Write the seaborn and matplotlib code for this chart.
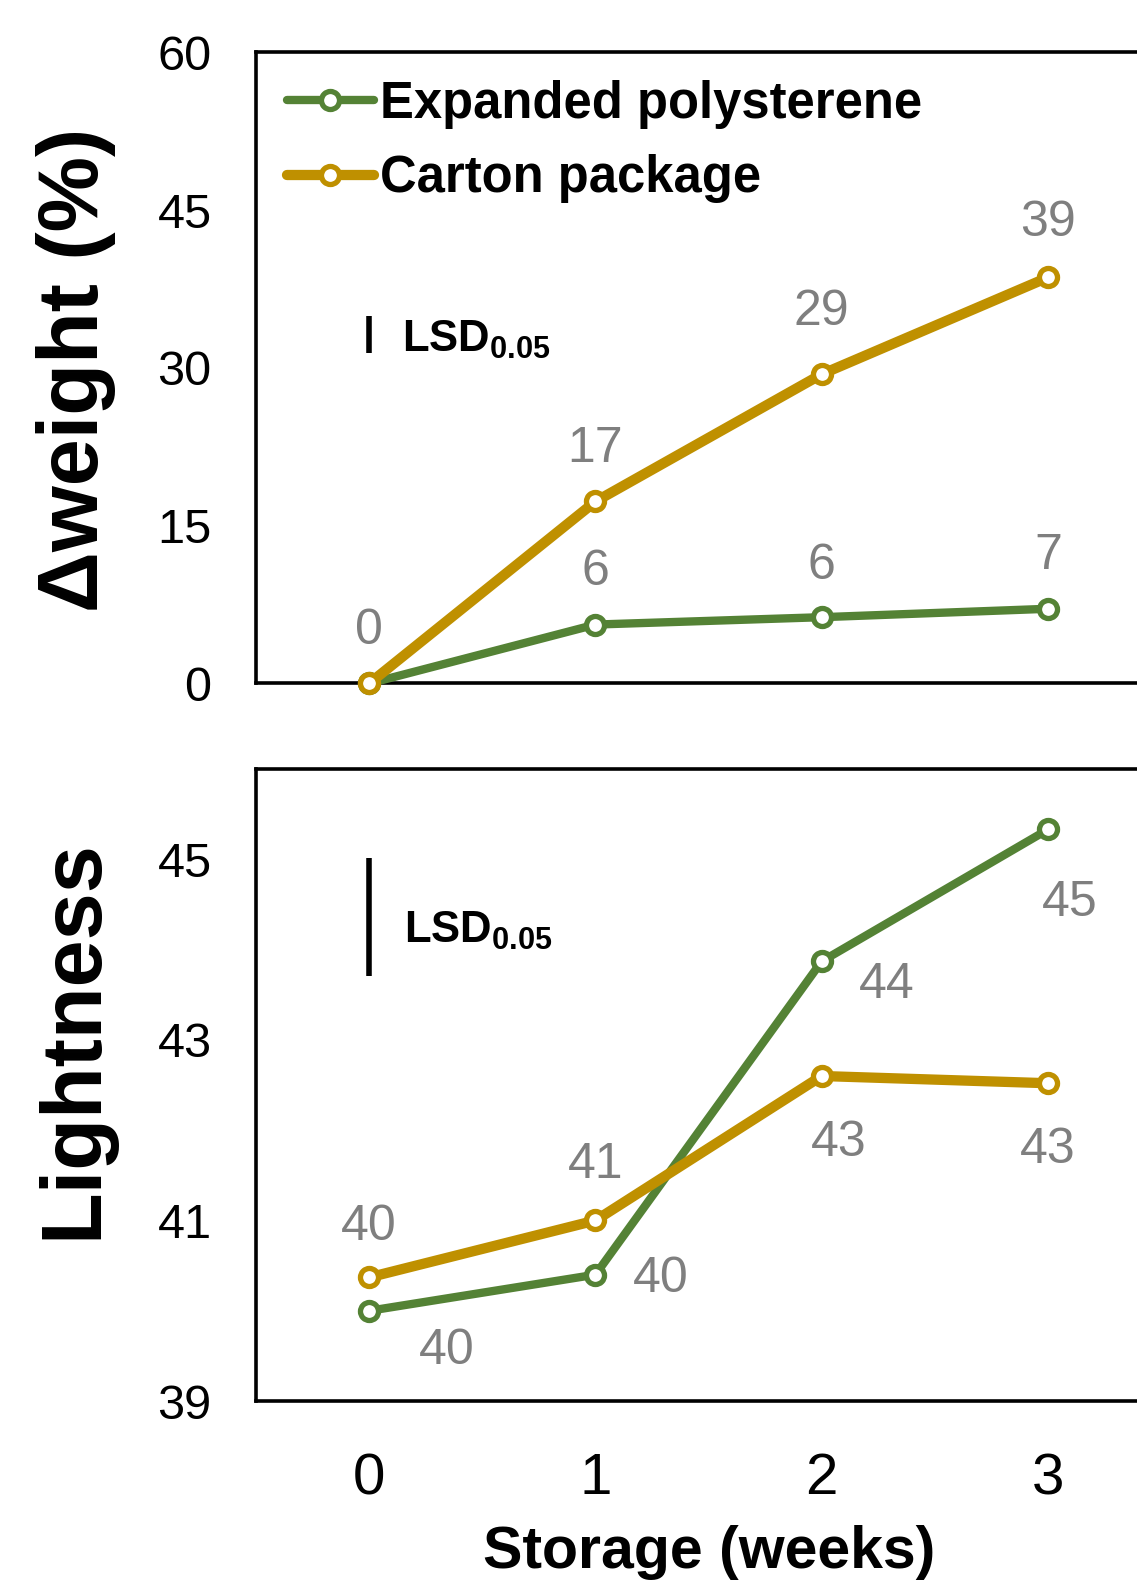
import matplotlib
matplotlib.use("Agg")
import matplotlib.pyplot as plt
import pandas as pd
import seaborn as sns

# ---- data ----
weeks = [0, 1, 2, 3]
week_labels = ["0", "1", "2", "3"]
series_names = ["Expanded polysterene", "Carton package"]

weight_eps = [0.0, 5.6, 6.3, 7.1]
weight_carton = [0.0, 17.3, 29.4, 38.6]
light_eps = [40.0, 40.4, 43.87, 45.33]
light_carton = [40.37, 41.0, 42.6, 42.52]

lsd_weight = 3.5
lsd_light = 1.3

weight_ticks = [0, 15, 30, 45, 60]
light_ticks = [39, 41, 43, 45]

# ---- style ----
sns.set_style("white")
plt.rcParams["font.family"] = ["Liberation Sans", "DejaVu Sans"]
plt.rcParams["mathtext.fontset"] = "custom"
plt.rcParams["mathtext.bf"] = "Liberation Sans:bold"
plt.rcParams["mathtext.rm"] = "Liberation Sans"
for key in ["text.color", "axes.labelcolor", "xtick.color", "ytick.color",
            "axes.edgecolor"]:
    plt.rcParams[key] = "black"

GREEN = "#548235"
GOLD = "#BF9000"
GREY = "#7F7F7F"
colors = {series_names[0]: GREEN, series_names[1]: GOLD}
widths = {series_names[0]: 6.0, series_names[1]: 7.4}

fig = plt.figure(figsize=(11.37, 15.81), dpi=100)
ax_w = fig.add_axes([0.2252, 0.5677, 0.796, 0.3992])
ax_l = fig.add_axes([0.2252, 0.1138, 0.796, 0.3998])


def draw(ax, eps, carton, legend):
    df = pd.DataFrame({
        "week": weeks * 2,
        "value": list(eps) + list(carton),
        "pack": [series_names[0]] * 4 + [series_names[1]] * 4,
    })
    for name in series_names:
        sub = df[df["pack"] == name]
        sns.lineplot(data=sub, x="week", y="value", ax=ax,
                     color=colors[name], linewidth=widths[name],
                     marker="o", markersize=13, markerfacecolor="white",
                     markeredgecolor=colors[name], markeredgewidth=3.8,
                     label=name if legend else None, legend=False,
                     clip_on=False, zorder=3)
    for line, name in zip(ax.get_lines()[-2:], series_names):
        line.set_linewidth(widths[name])
        line.set_markersize(13)
        line.set_markeredgewidth(3.8)


def style_axes(ax):
    ax.set_xlim(-0.5, 3.5)
    ax.set_xlabel("")
    ax.set_ylabel("")
    for side in ["top", "bottom", "left", "right"]:
        ax.spines[side].set_visible(True)
        ax.spines[side].set_color("black")
        ax.spines[side].set_linewidth(2.6)
    ax.tick_params(length=0)


# ---- top: weight change ----
draw(ax_w, weight_eps, weight_carton, legend=True)
style_axes(ax_w)
ax_w.set_ylim(0, 60)
ax_w.set_yticks(weight_ticks)
ax_w.set_yticklabels([str(t) for t in weight_ticks], fontsize=35)
ax_w.tick_params(axis="y", pad=32)
ax_w.set_xticks(weeks)
ax_w.set_xticklabels([])

# value labels (offsets in points)
w_eps_off = [None, (0, 38), (0, 37), (0, 38)]
w_car_off = [(0, 38), (0, 38), (0, 45), (0, 39)]
for x, v, off in zip(weeks, weight_eps, w_eps_off):
    if off is not None:
        ax_w.annotate(f"{v:.0f}", (x, v), xytext=off, textcoords="offset points",
                      ha="center", va="center", fontsize=36, color=GREY)
for x, v, off in zip(weeks, weight_carton, w_car_off):
    ax_w.annotate(f"{v:.0f}", (x, v), xytext=off, textcoords="offset points",
                  ha="center", va="center", fontsize=36, color=GREY)

# LSD bar
ax_w.plot([0, 0], [31.4, 31.4 + lsd_weight], color="black", lw=4,
          solid_capstyle="butt")
ax_w.text(0.145, 31.5, r"$\mathbf{LSD}_{\mathbf{0.05}}$", fontsize=31.5,
          ha="left", va="baseline")

handles = ax_w.get_lines()[:2]
ax_w.legend(handles, series_names, loc="upper left",
            bbox_to_anchor=(0.034, 0.956), frameon=False,
            prop={"weight": "bold", "size": 36.5}, handlelength=1.72,
            handletextpad=0.12, labelspacing=0.5, borderpad=0,
            borderaxespad=0, numpoints=1)

# ---- bottom: lightness ----
draw(ax_l, light_eps, light_carton, legend=False)
style_axes(ax_l)
ax_l.set_ylim(39, 46)
ax_l.set_yticks(light_ticks)
ax_l.set_yticklabels([str(t) for t in light_ticks], fontsize=35)
ax_l.tick_params(axis="y", pad=32)
ax_l.set_xticks(weeks)
ax_l.set_xticklabels(week_labels, fontsize=42)
ax_l.tick_params(axis="x", pad=37)

l_eps_off = [(56, -29), (47, -3), (47, -17), (16, -53)]
l_car_off = [(0, 36), (0, 40), (12, -48), (0, -48)]
for x, v, off in zip(weeks, light_eps, l_eps_off):
    ax_l.annotate(f"{v:.0f}", (x, v), xytext=off, textcoords="offset points",
                  ha="center", va="center", fontsize=36, color=GREY)
for x, v, off in zip(weeks, light_carton, l_car_off):
    ax_l.annotate(f"{v:.0f}", (x, v), xytext=off, textcoords="offset points",
                  ha="center", va="center", fontsize=36, color=GREY)

ax_l.plot([0, 0], [43.71, 43.71 + lsd_light], color="black", lw=4,
          solid_capstyle="butt")
ax_l.text(0.155, 44.07, r"$\mathbf{LSD}_{\mathbf{0.05}}$", fontsize=31.5,
          ha="left", va="baseline")

# ---- axis titles ----
fig.text(0.0668, 0.766, "Δweight (%)", rotation=90, ha="center", va="center",
         fontsize=61, fontweight="bold")
fig.text(0.065, 0.343, "Lightness", rotation=90, ha="center", va="center",
         fontsize=61, fontweight="bold")
fig.text(0.6236, 0.0085, "Storage (weeks)", ha="center", va="baseline",
         fontsize=42.5, fontweight="bold")

fig.savefig("out.png", dpi=100)
